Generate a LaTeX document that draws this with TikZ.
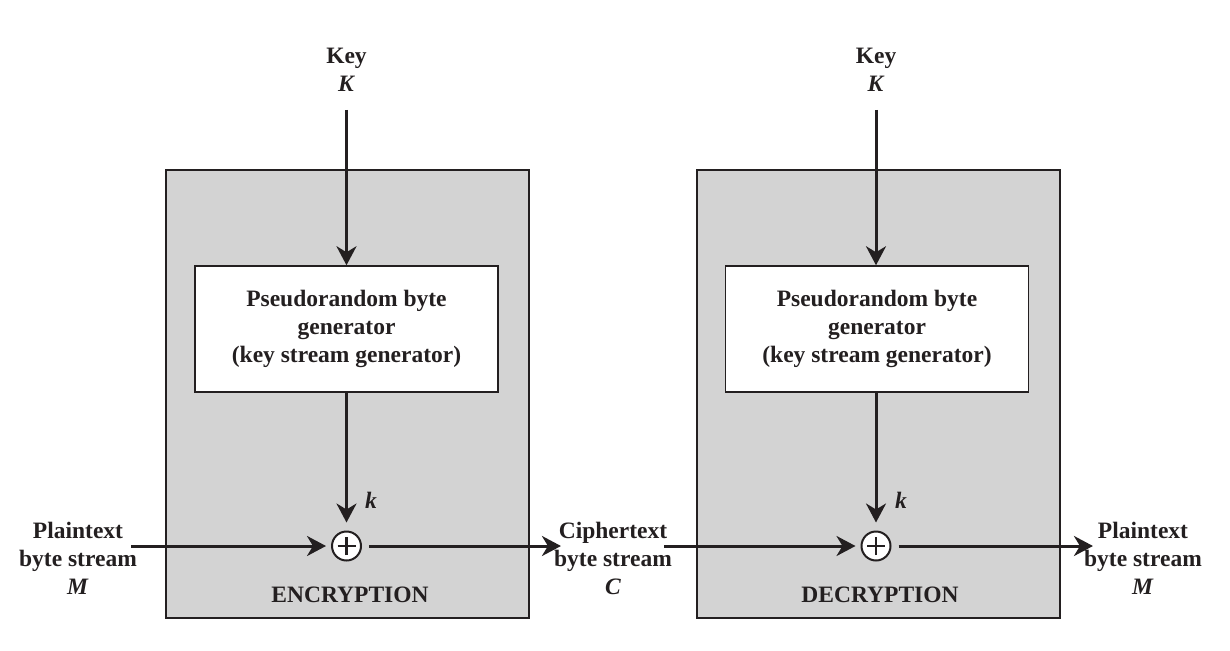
\documentclass[tikz,border=0pt]{standalone}
\usepackage{fontspec}
\setmainfont{Liberation Serif}
\usetikzlibrary{arrows.meta}
\definecolor{ink}{HTML}{231F20}
\definecolor{panel}{HTML}{D3D3D3}
\begin{document}
\begin{tikzpicture}[x=1pt,y=-1pt,
  lbl/.style={font=\fontsize{23.5}{28}\selectfont\bfseries, align=center, inner sep=0pt, text=ink},
  panelbox/.style={draw=ink, line width=1.5pt, fill=panel, anchor=north west, minimum width=363pt, minimum height=448pt, inner sep=0pt},
  genbox/.style={draw=ink, line width=1.5pt, fill=white, minimum width=303pt, minimum height=126pt, inner sep=0pt, lbl},
  flow/.style={draw=ink, line width=3pt, -{Stealth[length=19pt,width=20pt,inset=6pt]}},
  xorop/.style={circle, draw=ink, fill=white, line width=2pt, minimum size=29pt, inner sep=0pt,
    path picture={\draw[ink,line width=2.5pt] ([xshift=-9pt]path picture bounding box.center) -- ([xshift=9pt]path picture bounding box.center)
      ([yshift=-9pt]path picture bounding box.center) -- ([yshift=9pt]path picture bounding box.center);}}
]
\useasboundingbox (0,0) rectangle (1230,650);

% panels
\node[panelbox] (encP) at (165,169) {};
\node[panelbox] (decP) at (696,169) {};

% generator boxes
\node[genbox] (encG) at (346.5,329) {Pseudorandom byte\\generator\\(key stream generator)};
\node[genbox] (decG) at (877,329) {Pseudorandom byte\\generator\\(key stream generator)};

% key labels
\node[lbl] (encK) at (346.5,70) {Key\\\textit{K}};
\node[lbl] (decK) at (876,70) {Key\\\textit{K}};

% xor operators
\node[xorop] (encX) at (346.5,546) {};
\node[xorop] (decX) at (876,546) {};

% k labels
\node[lbl] (enck) at (371,500) {\textit{k}};
\node[lbl] (deck) at (901,500) {\textit{k}};

% stream labels
\node[lbl] (ptIn) at (78,558) {Plaintext\\byte stream\\\textit{M}};
\node[lbl] (ctMid) at (613,558) {Ciphertext\\byte stream\\\textit{C}};
\node[lbl] (ptOut) at (1143,558) {Plaintext\\byte stream\\\textit{M}};

% panel titles
\node[lbl] (encT) at (350,595) {ENCRYPTION};
\node[lbl] (decT) at (880,595) {DECRYPTION};

% connectors
\draw[flow, shorten <=18pt] (encK.south) -- (encG.north -| encK.south);
\draw[flow, shorten <=18pt] (decK.south) -- (decG.north -| decK.south);
\draw[flow, shorten >=8pt] (encG.south -| encX.north) -- (encX.north);
\draw[flow, shorten >=8pt] (decG.south -| decX.north) -- (decX.north);

\draw[flow, shorten <=-6pt, shorten >=5pt] (ptIn.east |- encX) -- (encX.west);
\draw[flow, shorten <=7pt, shorten >=-7pt] (encX.east) -- (ctMid.west |- encX);
\draw[flow, shorten <=-8pt, shorten >=5pt] (ctMid.east |- decX) -- (decX.west);
\draw[flow, shorten <=7pt, shorten >=-9pt] (decX.east) -- (ptOut.west |- decX);
\end{tikzpicture}
\end{document}
